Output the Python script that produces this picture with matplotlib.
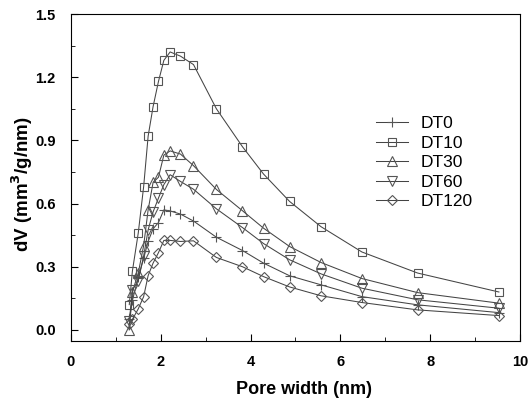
import matplotlib
matplotlib.use("Agg")
import matplotlib.pyplot as plt
from matplotlib.ticker import MultipleLocator

plt.rcParams['font.family'] = ['Liberation Sans', 'DejaVu Sans']

# pore width (nm), shared by all samples
pore = [1.30, 1.37, 1.50, 1.62, 1.72, 1.83, 1.95, 2.07, 2.21, 2.44, 2.73,
        3.24, 3.82, 4.29, 4.87, 5.57, 6.48, 7.72, 9.53]

dt0 = [0.05, 0.14, 0.25, 0.34, 0.42, 0.48, 0.51, 0.57, 0.565, 0.55, 0.517,
       0.44, 0.377, 0.317, 0.257, 0.214, 0.158, 0.119, 0.082]
dt10 = [0.12, 0.28, 0.46, 0.68, 0.92, 1.06, 1.18, 1.28, 1.32, 1.30, 1.26,
        1.05, 0.87, 0.74, 0.61, 0.49, 0.37, 0.27, 0.18]
dt30 = [0.0, 0.18, 0.27, 0.40, 0.57, 0.70, 0.725, 0.83, 0.85, 0.835, 0.78,
        0.667, 0.566, 0.483, 0.396, 0.32, 0.244, 0.177, 0.127]
dt60 = [0.04, 0.19, 0.234, 0.35, 0.475, 0.56, 0.626, 0.69, 0.737, 0.705, 0.668,
        0.575, 0.486, 0.41, 0.333, 0.266, 0.198, 0.143, 0.103]
dt120 = [0.03, 0.05, 0.10, 0.158, 0.258, 0.317, 0.367, 0.425, 0.425, 0.42, 0.423,
         0.344, 0.30, 0.253, 0.204, 0.162, 0.13, 0.095, 0.068]

names = ["DT0", "DT10", "DT30", "DT60", "DT120"]
series = [dt0, dt10, dt30, dt60, dt120]
markers = ["+", "s", "^", "v", "D"]
sizes = [7, 6, 7, 7, 5.5]

fig = plt.figure(figsize=(5.29, 4.01), dpi=100)
ax = fig.add_axes([0.134, 0.15, 0.849, 0.815])

for y, nm, mk, ms in zip(series, names, markers, sizes):
    ax.plot(pore, y, color="#444444", lw=0.75, marker=mk, ms=ms,
            mfc="none", mec="#555555", mew=0.8, label=nm)

ax.set_xlim(0, 10)
ax.set_ylim(-0.052, 1.5)
ax.xaxis.set_major_locator(MultipleLocator(2))
ax.xaxis.set_minor_locator(MultipleLocator(1))
ax.yaxis.set_major_locator(MultipleLocator(0.3))
ax.yaxis.set_minor_locator(MultipleLocator(0.15))
ax.tick_params(which="both", direction="in", top=False, right=False)
ax.tick_params(which="major", length=5, labelsize=10.5)
ax.tick_params(axis="x", which="major", pad=10)
ax.tick_params(axis="y", which="major", pad=11)
ax.tick_params(which="minor", length=3)
for lab in ax.get_xticklabels() + ax.get_yticklabels():
    lab.set_fontweight("bold")

ax.set_xlabel("Pore width (nm)", fontsize=13, fontweight="bold", labelpad=9, x=0.52)
ax.set_ylabel("dV (mm$^\\mathbf{3}$/g/nm)", fontsize=13.5, fontweight="bold", labelpad=0, y=0.48)

ax.legend(loc="upper left", bbox_to_anchor=(0.645, 0.735), frameon=False,
          fontsize=12.5, handlelength=1.85, labelspacing=0.25, handletextpad=0.7)

fig.savefig("out.png", dpi=100)
